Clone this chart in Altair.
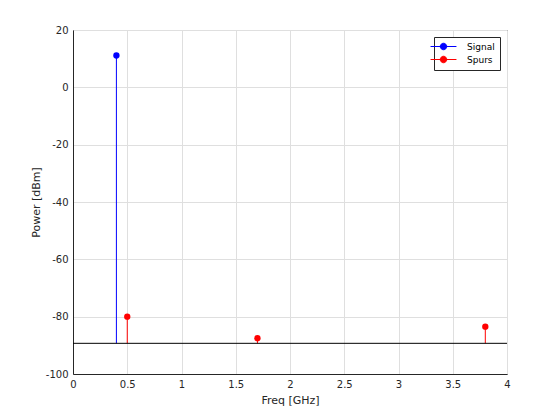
import altair as alt
import pandas as pd

series_names = ["Signal", "Spurs"]
series_colors = ["#0000ff", "#ff0000"]
signal_freq = [0.4]
signal_power = [11.1]
spur_freq = [0.5, 1.7, 3.8]
spur_power = [-80.0, -87.5, -83.5]
base_level = [-89.3]
x_ticks = [0, 0.5, 1, 1.5, 2, 2.5, 3, 3.5, 4]
y_ticks = [-100, -80, -60, -40, -20, 0, 20]

df = pd.DataFrame({
    "freq": signal_freq + spur_freq,
    "power": signal_power + spur_power,
    "series": ["Signal"] * len(signal_freq) + ["Spurs"] * len(spur_freq),
})
df["base"] = base_level[0]
base_df = pd.DataFrame({"base": base_level})

FONT = "DejaVu Sans"
xs = alt.Scale(domain=[0, 4], nice=False, zero=False)
ys = alt.Scale(domain=[-100, 20], nice=False, zero=False)
x_axis = alt.Axis(values=x_ticks, title="Freq [GHz]", labelExpr="toString(datum.value)", titlePadding=5)
y_axis = alt.Axis(values=y_ticks, title="Power [dBm]", labelExpr="toString(datum.value)", titlePadding=4)
x_enc = alt.X("freq:Q", scale=xs, axis=x_axis)
y_enc = alt.Y("power:Q", scale=ys, axis=y_axis)

legend_path = "M-4,0H4M-1,0A1,1,0,1,1,1,0A1,1,0,1,1,-1,0Z"
color_enc = alt.Color(
    "series:N",
    scale=alt.Scale(domain=series_names, range=series_colors),
    legend=alt.Legend(
        title=None, orient="top-right", offset=7, symbolType=legend_path,
        symbolSize=42, symbolStrokeWidth=1, labelOffset=19,
        strokeColor="#262626", fillColor="white", padding=5,
        labelFont=FONT, labelFontSize=9, labelColor="#000000", rowPadding=2,
    ),
)

stems = alt.Chart(df).mark_rule(strokeWidth=1).encode(
    x=x_enc, y=y_enc, y2="base:Q", color=color_enc
)
points = alt.Chart(df).mark_point(filled=True, size=40, opacity=1, shape="circle").encode(
    x=x_enc, y=y_enc, color=color_enc
)
baseline = alt.Chart(base_df).mark_rule(color="#000000", strokeWidth=1).encode(
    y=alt.Y("base:Q", scale=ys, axis=y_axis)
)

chart = alt.layer(stems, baseline, points).properties(
    width=434, height=344,
    autosize=alt.AutoSizeParams(type="none"),
    padding={"left": 65, "top": 22, "right": 45, "bottom": 38},
).configure_view(
    stroke="#262626", strokeWidth=1
).configure_axis(
    grid=True, gridColor="#dfdfdf", gridWidth=1,
    domainColor="#262626", tickSize=0, labelPadding=5,
    labelFont=FONT, labelFontSize=10, labelColor="#262626",
    titleFont=FONT, titleFontSize=11, titleFontWeight="normal", titleColor="#262626",
    labelFlush=False, labelOverlap=False,
)

chart.save("out.html", embed_options={"renderer": "svg", "actions": False})
